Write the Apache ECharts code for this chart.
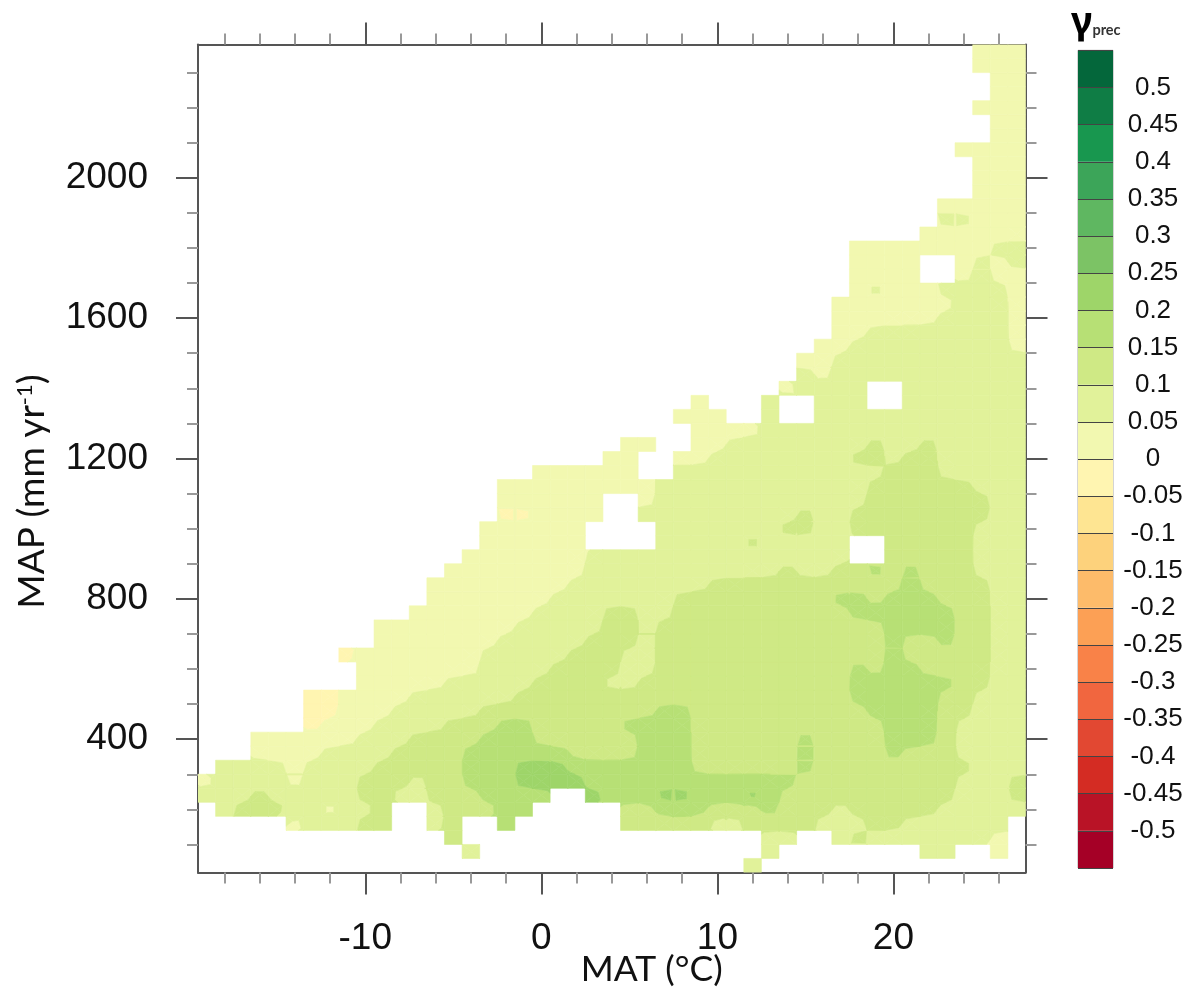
<!DOCTYPE html>
<html>
<head>
<meta charset="utf-8">
<style>html,body{margin:0;padding:0;background:#fff}#c{width:1189px;height:990px}</style>
<script src="https://cdn.jsdelivr.net/npm/echarts@6/dist/echarts.min.js"></script>
</head>
<body>
<div id="c"></div>
<script>
// Colour-band boundaries and their colours (lowest band first)
const contourLevels = [-0.5,-0.45,-0.4,-0.35,-0.3,-0.25,-0.2,-0.15,-0.1,-0.05,0,0.05,0.1,0.15,0.2,0.25,0.3,0.35,0.4,0.45,0.5];
const bandColors = ['#a50026','#b91326','#d42c23','#e24832','#f1663f','#f98248','#fca055','#fdbb6a','#fdd27c','#fee592','#fff5b1',
                    '#f2f8b0','#e1f29a','#cfe985','#b7e075','#9ed569','#7cc365','#5fb761','#3ca559','#18974f','#0f7d45','#04673b'];
const scaleMin = -0.55, scaleMax = 0.55;

// Grid of the field
const firstMat = -19, firstMap = 40, mapStep = 40;
// Value read for each letter (middle of the colour band); '.' = no data
const codeValues = {z:-0.025, a:0.025, b:0.075, c:0.125, d:0.175, e:0.225};
// One string per MAP row, from 40 mm upward; one letter per MAT column, from -19 °C
const fieldRows = [
"..... ..... ..... ..... ..... ..... .b... ..... ..... ..",
"..... ..... ..... b.... ..... ..... ..b.. ..... .bb.. a.",
"..... ..... ....c ..... ..... ..... ..bb. .bcbb bbbbb a.",
"..... abbbc c..bc ..d.. ....c ccccb bcccc bbbcc bbbbb b.",
".bccc bbabb c..bc ccdd. ....c cdddc ccdcc cbccc ccbbb bb",
"bbbcb bbbbc cbbcc cdddd ..edd deedd dedcc ccccc cccbb bc",
"abbbb abbbc ccbcc dddee eeddd ddddd ddddc ccccc cccbb bc",
".bbbb abbbb ccccc dddee edddd dddcc ccccd ccccc ccccb bb",
"...aa aabbb bcccc ddddd dcccc dddcc ccccd ccccd cccbb bb",
"...aa aaaab bbccc cdddc ccccc dddcc ccccd ccccd ddcbb bb",
"..... .zaaa bbbbc ccddc ccccd dddcc ccccc ccccd ddcbb bb",
"..... .zzaa abbbb bcccc ccccc cddcc ccccc cccdd ddccb bb",
"..... .zzaa aabbb bbbcc ccccc ccccc ccccc ccddd ddccb bb",
"..... ....a aaaab bbbbc cccbb ccccc ccccc ccddd dddcc bb",
"..... ....a aaaaa abbbb ccccb bcccc ccccc ccdcd dcccc bb",
"..... ...za aaaaa abbbb bcccb bcccc ccccc ccccd ccccc bb",
"..... ..... aaaaa aabbb bbccc bcccc ccccc ccccd ccdcc bb",
"..... ..... aaaaa aaabb bbbcc bcccc ccccc ccccd dddcc bb",
"..... ..... ..aaa aaaab bbbcc bbccc ccccc ccddd dddcc bb",
"..... ..... ...aa aaaaa bbbbb bbccc ccccc cddcd ddccc bb",
"..... ..... ...aa aaaaa abbbb bbbbc ccccc ccccc dcccc bb",
"..... ..... ....a aaaaa aabbb bbbbb bbbcb bccdc dcccb bb",
"..... ..... ..... aaaaa aabbb bbbbb bbbbb bb..c ccccb bb",
"..... ..... ..... .aaaa aa... .bbbb bcbbb bb..c ccccb bb",
"..... ..... ..... .aaaa aa... .bbbb bbbcc bbccc ccccb bb",
"..... ..... ..... ..zza aaa.. bbbbb bbbbc bbccc ccccc bb",
"..... ..... ..... ..aaa aaa.. abbbb bbbbb bbbcc ccccc bb",
"..... ..... ..... ..aaa aaaaa abbbb bbbbb bbbcc ccccb bb",
"..... ..... ..... ....a aaaaa ..bbb bbbbb bbbbc ccbbb bb",
"..... ..... ..... ..... ...aa ..aab bbbbb bbccb ccbbb bb",
"..... ..... ..... ..... ....a a..aa bbbbb bbbcb bcbbb bb",
"..... ..... ..... ..... ..... ...aa aabbb bbbbb bbbbb bb",
"..... ..... ..... ..... ..... ..aaa ..b.. bbbbb bbbbb bb",
"..... ..... ..... ..... ..... ...a. ..b.. bbb.. bbbbb bb",
"..... ..... ..... ..... ..... ..... ...ab bbb.. bbbbb bb",
"..... ..... ..... ..... ..... ..... ....b abbbb bbbbb bb",
"..... ..... ..... ..... ..... ..... ....a abbbb bbbbb bb",
"..... ..... ..... ..... ..... ..... ..... aabbb bbbbb ba",
"..... ..... ..... ..... ..... ..... ..... .aabb bbbbb ba",
"..... ..... ..... ..... ..... ..... ..... .aaaa aabbb ba",
"..... ..... ..... ..... ..... ..... ..... .aaaa aaabb ba",
"..... ..... ..... ..... ..... ..... ..... ..aba aabbb ba",
"..... ..... ..... ..... ..... ..... ..... ..aaa a..ab aa",
"..... ..... ..... ..... ..... ..... ..... ..aaa a..ab ab",
"..... ..... ..... ..... ..... ..... ..... ..aaa aaaaa bb",
"..... ..... ..... ..... ..... ..... ..... ..... .aaaa aa",
"..... ..... ..... ..... ..... ..... ..... ..... ..bba aa",
"..... ..... ..... ..... ..... ..... ..... ..... ..aaa aa",
"..... ..... ..... ..... ..... ..... ..... ..... ....a aa",
"..... ..... ..... ..... ..... ..... ..... ..... ....a aa",
"..... ..... ..... ..... ..... ..... ..... ..... ....a aa",
"..... ..... ..... ..... ..... ..... ..... ..... ...aa aa",
"..... ..... ..... ..... ..... ..... ..... ..... ..... aa",
"..... ..... ..... ..... ..... ..... ..... ..... ..... aa",
"..... ..... ..... ..... ..... ..... ..... ..... ....a aa",
"..... ..... ..... ..... ..... ..... ..... ..... ..... aa",
"..... ..... ..... ..... ..... ..... ..... ..... ..... aa",
"..... ..... ..... ..... ..... ..... ..... ..... ....a aa",
"..... ..... ..... ..... ..... ..... ..... ..... ....a aa"
];
// Axis ticks
const matMajorTicks = [-10,0,10,20];
const matMinorTicks = [-18,-16,-14,-12,-8,-6,-4,-2,2,4,6,8,12,14,16,18,22,24,26];
const mapMajorTicks = [400,800,1200,1600,2000];
const mapMinorTicks = [100,200,300,500,600,700,900,1000,1100,1300,1400,1500,1700,1800,1900,2100,2200,2300];
const matRange = [-19.5,27.5], mapRange = [20,2380];

// ---- build cells
const grid2d = fieldRows.map(r => [...r.replace(/ /g,'')].map(ch => ch==='.' ? null : codeValues[ch]));
const cells = [];
grid2d.forEach((row,r) => row.forEach((v,c) => { if (v!==null) cells.push([firstMat+c, firstMap+r*mapStep, v, c, r]); }));
const raw = (c,r) => (grid2d[r] && grid2d[r][c]!==undefined) ? grid2d[r][c] : null;
// Contour surface: each cell keeps most of its own reading, softened by its direct neighbours
const ownWeight = 0.72;
const surface = grid2d.map((row,r)=>row.map((v,c)=>{
  if(v===null) return null;
  let s=0,n=0;
  [[c-1,r],[c+1,r],[c,r-1],[c,r+1]].forEach(p=>{const w=raw(p[0],p[1]); if(w!==null){s+=w;n++;}});
  return n ? ownWeight*v+(1-ownWeight)*s/n : v;
}));
const at = (c,r) => (surface[r] && surface[r][c]!==undefined) ? surface[r][c] : null;
function cornerValue(c,r,dx,dy){ // mean of the valid cells that touch a cell corner
  let s=0,n=0;
  [[c,r],[c+dx,r],[c,r+dy],[c+dx,r+dy]].forEach(p=>{const v=at(p[0],p[1]); if(v!==null){s+=v;n++;}});
  return s/n;
}
function clip(poly,t,above){
  const out=[];
  for(let i=0;i<poly.length;i++){
    const a=poly[i], b=poly[(i+1)%poly.length];
    const ia = above ? a.v>=t : a.v<=t, ib = above ? b.v>=t : b.v<=t;
    if(ia) out.push(a);
    if(ia!==ib){ const f=(t-a.v)/(b.v-a.v); out.push({x:a.x+(b.x-a.x)*f, y:a.y+(b.y-a.y)*f, v:t}); }
  }
  return out;
}
const bandEdges = [-Infinity].concat(contourLevels, [Infinity]);
const bandOf = v => { for(let i=0;i<bandColors.length;i++){ if(v<bandEdges[i+1]) return i; } return bandColors.length-1; };

function renderCell(params, api){
  const mat=api.value(0), map=api.value(1), c=api.value(3), r=api.value(4);
  const v=at(c,r);
  const hx=0.5, hy=mapStep/2;
  const mk=(dx,dy)=>{ const p=api.coord([mat+dx*hx, map+dy*hy]); return {x:p[0], y:p[1], v:cornerValue(c,r,dx,dy)}; };
  const cs=[mk(-1,-1),mk(1,-1),mk(1,1),mk(-1,1)];
  const p0=api.coord([mat,map]); const ctr={x:p0[0],y:p0[1],v:v};
  const children=[];
  const push=(pts,col)=>children.push({type:'polygon',shape:{points:pts.map(q=>[q.x,q.y])},style:{fill:col,stroke:col,lineWidth:0.6}});
  const b0=bandOf(v);
  if(cs.every(q=>bandOf(q.v)===b0)){ push(cs,bandColors[b0]); return {type:'group',children}; }
  for(let k=0;k<4;k++){
    const tri=[ctr,cs[k],cs[(k+1)%4]];
    const lo=Math.min(tri[0].v,tri[1].v,tri[2].v), hi=Math.max(tri[0].v,tri[1].v,tri[2].v);
    for(let b=bandOf(lo);b<=bandOf(hi);b++){
      let poly=tri;
      if(isFinite(bandEdges[b])) poly=clip(poly,bandEdges[b],true);
      if(poly.length&&isFinite(bandEdges[b+1])) poly=clip(poly,bandEdges[b+1],false);
      if(poly.length>=3) push(poly,bandColors[b]);
    }
  }
  return {type:'group',children};
}

// ---- colour bar from the same levels
const barEdges = [scaleMin].concat(contourLevels,[scaleMax]);
const barData = bandColors.map((col,i)=>[barEdges[i],barEdges[i+1],col]);
function renderBar(params, api){
  const a=api.coord([0,api.value(0)]), b=api.coord([1,api.value(1)]);
  return {type:'rect',shape:{x:a[0],y:b[1],width:b[0]-a[0],height:a[1]-b[1]},style:{fill:barData[params.dataIndex][2]}};
}

const frame={left:198,top:44.5,width:827.5,height:828,outerBoundsMode:'none'};
const lineCol='#555', tickFont={fontFamily:'Liberation Sans',fontSize:37,color:'#111'};
const chart=echarts.init(document.getElementById('c'),null,{renderer:'canvas'});
const hiddenSplit={splitLine:{show:false},minorTick:{show:false}};
chart.setOption({
  animation:false,
  backgroundColor:'#fff',
  title:{text:'{g|γ}{p|prec}',left:1071,top:1,padding:0,textStyle:{rich:{
    g:{fontFamily:'Noto Sans',fontSize:38,color:'#000',lineHeight:44},
    p:{fontFamily:'Lato',fontSize:14.5,color:'#333',padding:[14,0,0,0]}}}},
  grid:[
    Object.assign({},frame),
    Object.assign({},frame),
    {left:1078,top:50.3,width:35,height:817.7,show:true,borderColor:'#aaa',borderWidth:1,backgroundColor:'transparent',outerBoundsMode:'none'}
  ],
  xAxis:[
    {type:'value',gridIndex:0,position:'bottom',min:matRange[0],max:matRange[1],...hiddenSplit,
     axisLine:{onZero:false,lineStyle:{color:lineCol,width:2}},
     axisTick:{show:true,length:22,customValues:matMajorTicks,lineStyle:{color:'#555',width:2}},
     axisLabel:{customValues:matMajorTicks,margin:48,...tickFont},
     name:'MAT (°C)',nameLocation:'middle',nameGap:79,nameMoveOverlap:false,
     nameTextStyle:{fontFamily:'Lato',fontSize:35.5,color:'#111',padding:[0,0,0,80]}},
    {type:'value',gridIndex:0,position:'top',min:matRange[0],max:matRange[1],...hiddenSplit,
     axisLine:{onZero:false,lineStyle:{color:lineCol,width:2}},
     axisTick:{show:true,length:22,customValues:matMajorTicks,lineStyle:{color:'#555',width:2}},
     axisLabel:{show:false}},
    {type:'value',gridIndex:1,position:'bottom',min:matRange[0],max:matRange[1],...hiddenSplit,
     axisLine:{show:false,onZero:false},axisTick:{show:true,length:11,customValues:matMinorTicks,lineStyle:{color:'#999',width:2}},axisLabel:{show:false}},
    {type:'value',gridIndex:1,position:'top',min:matRange[0],max:matRange[1],...hiddenSplit,
     axisLine:{show:false,onZero:false},axisTick:{show:true,length:11,customValues:matMinorTicks,lineStyle:{color:'#999',width:2}},axisLabel:{show:false}},
    {type:'value',gridIndex:2,min:0,max:1,show:false,...hiddenSplit}
  ],
  yAxis:[
    {type:'value',gridIndex:0,position:'left',min:mapRange[0],max:mapRange[1],...hiddenSplit,
     axisLine:{onZero:false,lineStyle:{color:lineCol,width:2}},
     axisTick:{show:true,length:22,customValues:mapMajorTicks,lineStyle:{color:'#555',width:2}},
     axisLabel:{customValues:mapMajorTicks,margin:50,...tickFont,padding:[8,0,0,0],formatter:v=>String(v)},
     name:'{t|MAP (mm yr}{s|-1}{t|)}',nameLocation:'middle',nameGap:147,nameMoveOverlap:false,
     nameTextStyle:{padding:[0,66,0,0],rich:{
       t:{fontFamily:'Lato',fontSize:37,color:'#111'},
       s:{fontFamily:'Lato',fontSize:22,color:'#111',verticalAlign:'top',padding:[0,0,10,0]}}}},
    {type:'value',gridIndex:0,position:'right',min:mapRange[0],max:mapRange[1],...hiddenSplit,
     axisLine:{onZero:false,lineStyle:{color:lineCol,width:2}},
     axisTick:{show:true,length:22,customValues:mapMajorTicks,lineStyle:{color:'#555',width:2}},
     axisLabel:{show:false}},
    {type:'value',gridIndex:1,position:'left',min:mapRange[0],max:mapRange[1],...hiddenSplit,
     axisLine:{show:false,onZero:false},axisTick:{show:true,length:11,customValues:mapMinorTicks,lineStyle:{color:'#999',width:2}},axisLabel:{show:false}},
    {type:'value',gridIndex:1,position:'right',min:mapRange[0],max:mapRange[1],...hiddenSplit,
     axisLine:{show:false,onZero:false},axisTick:{show:true,length:11,customValues:mapMinorTicks,lineStyle:{color:'#999',width:2}},axisLabel:{show:false}},
    {type:'value',gridIndex:2,position:'right',min:scaleMin,max:scaleMax,interval:0.05,z:5,
     axisLine:{show:false},axisTick:{show:false},minorTick:{show:false},
     splitLine:{show:true,lineStyle:{color:'#444',width:1}},
     axisLabel:{margin:40,align:'center',fontFamily:'Liberation Sans',fontSize:26,color:'#111',padding:[3,0,0,0],
       showMinLabel:false,showMaxLabel:false,
       formatter:v=>String(+(+v).toFixed(2))}}
  ],
  series:[
    {type:'custom',name:'γ prec',xAxisIndex:0,yAxisIndex:0,coordinateSystem:'cartesian2d',data:cells,
     dimensions:['MAT','MAP','gamma','col','row'],renderItem:renderCell,silent:true,clip:true},
    {type:'custom',name:'colour bar',xAxisIndex:4,yAxisIndex:4,coordinateSystem:'cartesian2d',
     data:barData.map(d=>[d[0],d[1]]),renderItem:renderBar,silent:true}
  ]
});
</script>
</body>
</html>
